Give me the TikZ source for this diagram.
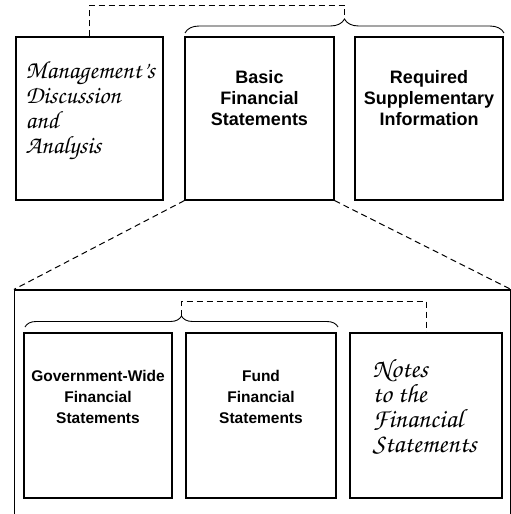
\documentclass[tikz,border=0pt]{standalone}
\usepackage[T1]{fontenc}
\usepackage{fontspec}
\setsansfont{Liberation Sans}
\usetikzlibrary{positioning,decorations.pathreplacing}
\newcommand{\chancery}{\fontencoding{T1}\fontfamily{pzc}\fontseries{mb}\fontshape{it}\selectfont}

\begin{document}
\begin{tikzpicture}[x=1pt, y=-1pt,
  panel/.style={draw, line width=1.1pt, inner sep=0pt, minimum height=#1},
  sanslabel/.style={inner sep=0pt, align=center, font=\sffamily\bfseries\fontsize{#1}{21}\selectfont},
  scriptlabel/.style 2 args={inner sep=0pt, align=left, font=\chancery\fontsize{#1}{#2}\selectfont},
  curly/.style={decorate, decoration={brace, amplitude=#1}, line width=0.9pt},
  dashline/.style={dashed, dash pattern=on 6pt off 4pt, line width=1pt}]

\clip (0,0) rectangle (511,514);

% Upper row
\node[panel=163pt, minimum width=147pt] (mda)   at (89.5,118.5) {};
\node[panel=163pt, minimum width=149pt] (basic) at (259.5,118.5) {};
\node[panel=163pt, minimum width=148pt] (rsi)   at (429,118.5) {};

\node[scriptlabel={25}{25}, below right=24pt and 10pt of mda.north west] (mdaText)
  {Management's\\Discussion\\and\\Analysis};
\node[sanslabel=18, below=34pt of basic.north] (basicText) {Basic\\Financial\\Statements};
\node[sanslabel=18, below=34pt of rsi.north] (rsiText) {Required\\Supplementary\\Information};

% brace over basic + RSI, tied to MD&A
\coordinate (topL) at (185,33);
\coordinate (topR) at (504,33);
\coordinate (topTip) at (344.5,19);
\draw[curly=14pt] (topL) -- (topR);
\draw[dashline] (mda.north) -- ++(0,-31) -| (topTip);

% Zoom into basic financial statements
\node[panel=260pt, minimum width=496pt] (fsbox) at (262.5,420) {};
\draw[dashline] (basic.south west) -- (fsbox.north west);
\draw[dashline] (basic.south east) -- (fsbox.north east);

% Lower row
\node[panel=165pt, minimum width=148pt] (gov)   at (98,415.5) {};
\node[panel=165pt, minimum width=150pt] (fund)  at (261,415.5) {};
\node[panel=165pt, minimum width=152pt] (notes) at (426,415.5) {};

\node[sanslabel=15.5, below=38pt of gov.north] (govText) {Government-Wide\\Financial\\Statements};
\node[sanslabel=15.5, below=38pt of fund.north] (fundText) {Fund\\Financial\\Statements};
\node[scriptlabel={26.5}{25}, below right=26pt and 23pt of notes.north west] (notesText)
  {Notes\\to the\\Financial\\Statements};

% brace over the statements, tied to the notes
\coordinate (botL) at (25,327);
\coordinate (botR) at (338,327);
\coordinate (botTip) at (181.5,316);
\draw[curly=11pt] (botL) -- (botR);
\draw[dashline] (botTip) -- ++(0,-15) -| (notes.north);

\end{tikzpicture}
\end{document}
